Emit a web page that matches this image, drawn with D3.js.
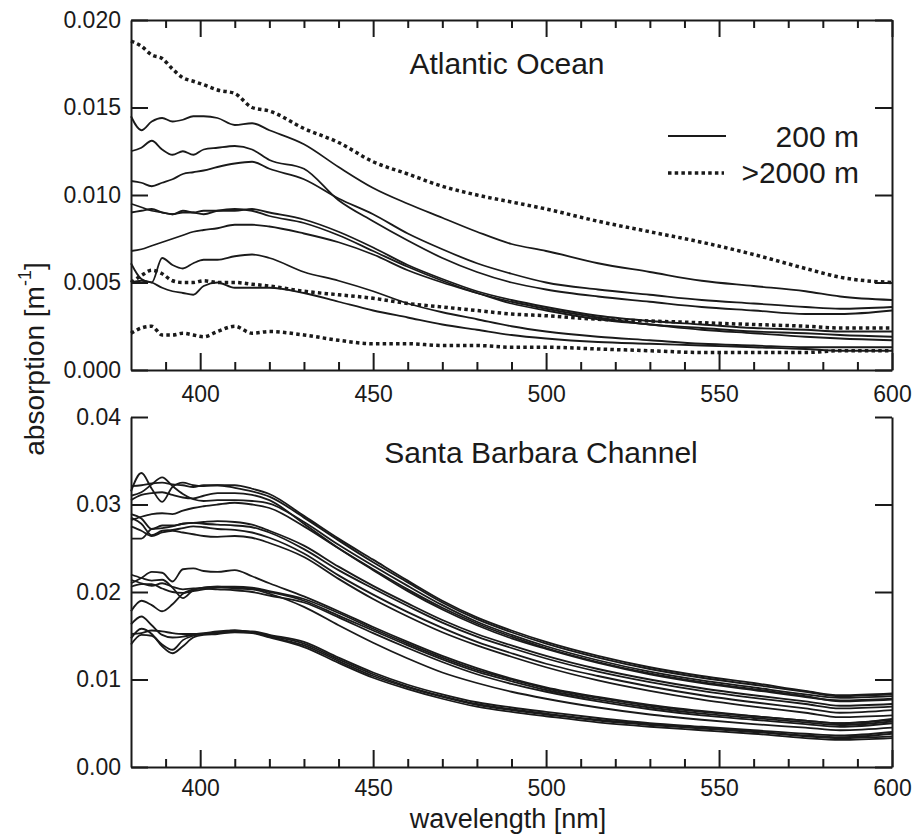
<!DOCTYPE html>
<html>
<head>
<meta charset="utf-8">
<script src="https://cdn.jsdelivr.net/npm/d3@7"></script>
<style>
  body { margin: 0; background: #fff; }
  svg { display: block; font-family: "Liberation Sans", Arial, sans-serif; }
</style>
</head>
<body>
<div id="chart"></div>
<script>
// wavelength grid (nm) shared by every spectrum
var wl = [380, 383, 386, 389, 392, 395, 398, 401, 405, 410, 415, 420, 430, 440, 450,
          460, 470, 480, 490, 500, 515, 530, 545, 560, 575, 585, 600];

// Atlantic Ocean, 200 m (solid)
var atl200_1 = [0.0145,0.0137,0.0142,0.0144,0.0142,0.0143,0.0145,0.0145,0.0144,0.0140,0.0141,0.0137,0.0129,0.0116,0.0104,0.0095,0.0087,0.0079,0.0072,0.0068,0.0061,0.0056,0.0051,0.0048,0.0045,0.0042,0.0040];
var atl200_2 = [0.0125,0.0127,0.0131,0.0126,0.0123,0.0125,0.0123,0.0126,0.0127,0.0128,0.0126,0.0120,0.0115,0.0097,0.0085,0.0074,0.0064,0.0056,0.0050,0.0046,0.0042,0.0039,0.0036,0.0034,0.0032,0.0032,0.0034];
var atl200_3 = [0.0108,0.0107,0.0105,0.0107,0.0109,0.0112,0.0113,0.0114,0.0116,0.0118,0.0119,0.0115,0.0109,0.0098,0.0089,0.0078,0.0069,0.0061,0.0055,0.0050,0.0046,0.0043,0.0040,0.0038,0.0036,0.0035,0.0036];
var atl200_4 = [0.0095,0.0093,0.0091,0.0090,0.0089,0.0090,0.0090,0.0091,0.0091,0.0091,0.0092,0.0090,0.0086,0.0079,0.0070,0.0060,0.0052,0.0045,0.0040,0.0036,0.0031,0.0028,0.0026,0.0024,0.0023,0.0022,0.0022];
var atl200_5 = [0.0090,0.0091,0.0092,0.0090,0.0089,0.0091,0.0090,0.0089,0.0091,0.0092,0.0091,0.0088,0.0084,0.0077,0.0068,0.0059,0.0051,0.0044,0.0039,0.0035,0.0030,0.0026,0.0024,0.0022,0.0021,0.0020,0.0019];
var atl200_6 = [0.0068,0.0069,0.0071,0.0073,0.0075,0.0077,0.0079,0.0080,0.0081,0.0083,0.0083,0.0082,0.0078,0.0073,0.0066,0.0057,0.0050,0.0044,0.0038,0.0034,0.0029,0.0026,0.0023,0.0021,0.0019,0.0018,0.0017];
var atl200_7 = [0.0061,0.0052,0.0050,0.0064,0.0060,0.0058,0.0061,0.0063,0.0063,0.0065,0.0066,0.0064,0.0056,0.0051,0.0045,0.0038,0.0033,0.0029,0.0025,0.0022,0.0019,0.0017,0.0015,0.0014,0.0013,0.0013,0.0013];
var atl200_8 = [0.0050,0.0051,0.0050,0.0047,0.0045,0.0044,0.0043,0.0048,0.0050,0.0047,0.0047,0.0047,0.0044,0.0039,0.0034,0.0030,0.0026,0.0023,0.0020,0.0018,0.0016,0.0015,0.0014,0.0013,0.0012,0.0011,0.0011];

// Atlantic Ocean, >2000 m (dotted)
var atlDeep_1 = [0.0188,0.0185,0.0180,0.0178,0.0172,0.0167,0.0165,0.0163,0.0160,0.0158,0.0150,0.0148,0.0138,0.0130,0.0119,0.0112,0.0105,0.0100,0.0096,0.0092,0.0085,0.0079,0.0073,0.0066,0.0058,0.0053,0.0050];
var atlDeep_2 = [0.0050,0.0054,0.0057,0.0055,0.0051,0.0050,0.0050,0.0051,0.0050,0.0050,0.0049,0.0048,0.0045,0.0043,0.0041,0.0038,0.0036,0.0034,0.0032,0.0031,0.0029,0.0028,0.0027,0.0026,0.0025,0.0024,0.0024];
var atlDeep_3 = [0.0021,0.0024,0.0025,0.0020,0.0020,0.0021,0.0020,0.0019,0.0022,0.0025,0.0021,0.0022,0.0020,0.0017,0.0015,0.0015,0.0014,0.0014,0.0013,0.0013,0.0012,0.0011,0.0010,0.0010,0.0010,0.0011,0.0011];

// Santa Barbara Channel
var sbc_1  = [0.0315,0.0336,0.0318,0.0303,0.0320,0.0325,0.0322,0.0321,0.0322,0.0322,0.0318,0.0312,0.0287,0.0261,0.0237,0.0213,0.0190,0.0171,0.0156,0.0143,0.0127,0.0114,0.0104,0.0096,0.0087,0.0082,0.0084];
var sbc_2  = [0.0310,0.0314,0.0323,0.0331,0.0321,0.0312,0.0306,0.0304,0.0305,0.0305,0.0304,0.0301,0.0280,0.0254,0.0230,0.0207,0.0185,0.0166,0.0151,0.0138,0.0122,0.0109,0.0099,0.0091,0.0083,0.0079,0.0081];
var sbc_3  = [0.0321,0.0322,0.0324,0.0325,0.0323,0.0322,0.0320,0.0322,0.0322,0.0319,0.0315,0.0309,0.0285,0.0259,0.0234,0.0211,0.0188,0.0169,0.0154,0.0141,0.0125,0.0112,0.0102,0.0094,0.0086,0.0081,0.0083];
var sbc_4  = [0.0305,0.0311,0.0313,0.0314,0.0311,0.0308,0.0307,0.0310,0.0313,0.0313,0.0311,0.0305,0.0278,0.0250,0.0225,0.0201,0.0180,0.0162,0.0147,0.0135,0.0119,0.0106,0.0096,0.0088,0.0080,0.0076,0.0078];
var sbc_5  = [0.0282,0.0286,0.0289,0.0290,0.0289,0.0293,0.0296,0.0298,0.0300,0.0302,0.0300,0.0296,0.0275,0.0250,0.0226,0.0203,0.0182,0.0164,0.0149,0.0136,0.0120,0.0107,0.0097,0.0089,0.0081,0.0075,0.0077];
var sbc_6  = [0.0289,0.0284,0.0272,0.0276,0.0276,0.0278,0.0279,0.0280,0.0281,0.0280,0.0277,0.0270,0.0253,0.0229,0.0207,0.0187,0.0168,0.0152,0.0139,0.0127,0.0112,0.0100,0.0090,0.0082,0.0075,0.0070,0.0072];
var sbc_7  = [0.0261,0.0261,0.0272,0.0273,0.0275,0.0278,0.0279,0.0278,0.0277,0.0276,0.0274,0.0268,0.0249,0.0225,0.0204,0.0184,0.0165,0.0149,0.0136,0.0124,0.0109,0.0097,0.0087,0.0079,0.0072,0.0067,0.0069];
var sbc_8  = [0.0285,0.0278,0.0265,0.0270,0.0271,0.0273,0.0275,0.0274,0.0272,0.0271,0.0268,0.0262,0.0244,0.0219,0.0197,0.0177,0.0159,0.0143,0.0130,0.0118,0.0104,0.0092,0.0082,0.0074,0.0067,0.0062,0.0065];
var sbc_9  = [0.0275,0.0270,0.0264,0.0268,0.0270,0.0268,0.0266,0.0264,0.0263,0.0264,0.0262,0.0256,0.0240,0.0215,0.0192,0.0172,0.0154,0.0139,0.0126,0.0114,0.0099,0.0087,0.0077,0.0069,0.0062,0.0057,0.0059];
var sbc_10 = [0.0210,0.0216,0.0223,0.0222,0.0212,0.0226,0.0227,0.0224,0.0223,0.0225,0.0218,0.0210,0.0195,0.0178,0.0160,0.0143,0.0127,0.0113,0.0101,0.0091,0.0080,0.0071,0.0064,0.0058,0.0053,0.0050,0.0054];
var sbc_11 = [0.0220,0.0216,0.0213,0.0214,0.0205,0.0193,0.0202,0.0205,0.0206,0.0206,0.0205,0.0201,0.0192,0.0176,0.0158,0.0141,0.0125,0.0111,0.0100,0.0090,0.0079,0.0070,0.0063,0.0058,0.0053,0.0050,0.0055];
var sbc_12 = [0.0206,0.0209,0.0209,0.0204,0.0200,0.0199,0.0201,0.0203,0.0205,0.0205,0.0204,0.0200,0.0190,0.0173,0.0156,0.0139,0.0123,0.0109,0.0098,0.0088,0.0077,0.0068,0.0061,0.0056,0.0051,0.0048,0.0052];
var sbc_13 = [0.0178,0.0190,0.0185,0.0178,0.0186,0.0198,0.0203,0.0205,0.0206,0.0204,0.0203,0.0198,0.0183,0.0162,0.0142,0.0124,0.0108,0.0096,0.0086,0.0078,0.0068,0.0060,0.0054,0.0049,0.0045,0.0042,0.0045];
var sbc_14 = [0.0214,0.0210,0.0207,0.0210,0.0206,0.0203,0.0204,0.0204,0.0203,0.0202,0.0200,0.0196,0.0188,0.0171,0.0153,0.0136,0.0120,0.0106,0.0095,0.0086,0.0075,0.0066,0.0059,0.0054,0.0049,0.0046,0.0050];
var sbc_15 = [0.0163,0.0172,0.0162,0.0151,0.0148,0.0149,0.0151,0.0152,0.0154,0.0155,0.0155,0.0151,0.0143,0.0125,0.0108,0.0094,0.0083,0.0074,0.0068,0.0063,0.0056,0.0050,0.0046,0.0042,0.0038,0.0036,0.0040];
var sbc_16 = [0.0140,0.0151,0.0150,0.0140,0.0134,0.0145,0.0150,0.0152,0.0153,0.0156,0.0154,0.0150,0.0141,0.0123,0.0106,0.0092,0.0081,0.0072,0.0066,0.0061,0.0054,0.0049,0.0045,0.0041,0.0036,0.0034,0.0038];
var sbc_17 = [0.0152,0.0153,0.0156,0.0155,0.0153,0.0152,0.0152,0.0153,0.0155,0.0156,0.0154,0.0149,0.0139,0.0121,0.0104,0.0091,0.0080,0.0071,0.0065,0.0060,0.0053,0.0048,0.0044,0.0040,0.0035,0.0033,0.0035];
var sbc_18 = [0.0147,0.0158,0.0152,0.0138,0.0130,0.0138,0.0148,0.0151,0.0152,0.0154,0.0153,0.0148,0.0137,0.0119,0.0102,0.0089,0.0078,0.0069,0.0063,0.0058,0.0051,0.0046,0.0042,0.0038,0.0033,0.0031,0.0033];

var atl200 = [atl200_1, atl200_2, atl200_3, atl200_4, atl200_5, atl200_6, atl200_7, atl200_8];
var atlDeep = [atlDeep_1, atlDeep_2, atlDeep_3];
var sbc = [sbc_1, sbc_2, sbc_3, sbc_4, sbc_5, sbc_6, sbc_7, sbc_8, sbc_9,
           sbc_10, sbc_11, sbc_12, sbc_13, sbc_14, sbc_15, sbc_16, sbc_17, sbc_18];

// ticks and labels
var xMajor = [400, 450, 500, 550, 600];
var xMinor = [390, 410, 420, 430, 440, 460, 470, 480, 490, 510, 520, 530, 540, 560, 570, 580, 590];
var yTopTicks = [0, 0.005, 0.010, 0.015, 0.020];
var yBotTicks = [0, 0.01, 0.02, 0.03, 0.04];
var legendLabels = ["200 m", ">2000 m"];

var width = 914, height = 837;
var ink = "#1a1a1a";
var tickFont = "23px";

var svg = d3.select("#chart").append("svg")
  .attr("width", width)
  .attr("height", height);

var x = d3.scaleLinear().domain([380, 600]).range([131, 892]);
var yTop = d3.scaleLinear().domain([0, 0.020]).range([370, 20]);
var yBot = d3.scaleLinear().domain([0, 0.04]).range([767, 417]);

function styleAxis(g) {
  g.selectAll("path, line").attr("stroke", ink).attr("stroke-width", 2);
  g.selectAll("text").style("font-size", tickFont).style("font-family", "Liberation Sans, Arial, sans-serif").attr("fill", ink);
}

function drawPanel(y, yTicks, yFmt, withTop, pad) {
  var g = svg.append("g");
  var y0 = y.range()[0], y1 = y.range()[1];

  // bottom axis: major ticks with labels, minor without
  g.append("g").attr("transform", "translate(0," + y0 + ")")
    .call(d3.axisBottom(x).tickValues(xMajor).tickSize(-17).tickSizeOuter(0).tickPadding(pad).tickFormat(d3.format("d")))
    .call(styleAxis);
  g.append("g").attr("transform", "translate(0," + y0 + ")")
    .call(d3.axisBottom(x).tickValues(xMinor).tickSize(-8).tickFormat(""))
    .call(styleAxis)
    .select(".domain").remove();

  if (withTop) {
    g.append("g").attr("transform", "translate(0," + y1 + ")")
      .call(d3.axisTop(x).tickValues(xMajor).tickSize(-17).tickSizeOuter(0).tickFormat(""))
      .call(styleAxis);
    g.append("g").attr("transform", "translate(0," + y1 + ")")
      .call(d3.axisTop(x).tickValues(xMinor).tickSize(-8).tickFormat(""))
      .call(styleAxis)
      .select(".domain").remove();
  }

  g.append("g").attr("transform", "translate(" + x.range()[0] + ",0)")
    .call(d3.axisLeft(y).tickValues(yTicks).tickSize(-17).tickSizeOuter(0).tickPadding(10).tickFormat(d3.format(yFmt)))
    .call(styleAxis);
  g.append("g").attr("transform", "translate(" + x.range()[1] + ",0)")
    .call(d3.axisRight(y).tickValues(yTicks).tickSize(-17).tickSizeOuter(0).tickFormat(""))
    .call(styleAxis);
  return g;
}

drawPanel(yTop, yTopTicks, ".3f", true, 16);
drawPanel(yBot, yBotTicks, ".2f", false, 13);

var lineTop = d3.line().x(function(d, i) { return x(wl[i]); }).y(function(d) { return yTop(d); }).curve(d3.curveMonotoneX);
var lineBot = d3.line().x(function(d, i) { return x(wl[i]); }).y(function(d) { return yBot(d); }).curve(d3.curveMonotoneX);

svg.append("g").selectAll("path")
  .data(atl200)
  .enter().append("path")
  .attr("d", lineTop)
  .attr("fill", "none")
  .attr("stroke", ink)
  .attr("stroke-width", 1.8);

svg.append("g").selectAll("path")
  .data(atlDeep)
  .enter().append("path")
  .attr("d", lineTop)
  .attr("fill", "none")
  .attr("stroke", ink)
  .attr("stroke-width", 3.5)
  .attr("stroke-dasharray", "3.5,3.2");

svg.append("g").selectAll("path")
  .data(sbc)
  .enter().append("path")
  .attr("d", lineBot)
  .attr("fill", "none")
  .attr("stroke", ink)
  .attr("stroke-width", 1.8);

// panel titles
svg.append("text").attr("x", 507).attr("y", 74).attr("text-anchor", "middle")
  .style("font-size", "30px").attr("fill", ink).text("Atlantic Ocean");
svg.append("text").attr("x", 541).attr("y", 463).attr("text-anchor", "middle")
  .style("font-size", "30px").attr("fill", ink).text("Santa Barbara Channel");

// legend
var legend = svg.append("g");
legend.append("line").attr("x1", 668).attr("x2", 726).attr("y1", 136).attr("y2", 136)
  .attr("stroke", ink).attr("stroke-width", 1.8);
legend.append("line").attr("x1", 668).attr("x2", 724).attr("y1", 173).attr("y2", 173)
  .attr("stroke", ink).attr("stroke-width", 3.5).attr("stroke-dasharray", "3.5,3.2");
legend.selectAll("text.lg")
  .data(legendLabels)
  .enter().append("text")
  .attr("class", "lg")
  .attr("x", 859)
  .attr("y", function(d, i) { return 147 + i * 36; })
  .attr("text-anchor", "end")
  .style("font-size", "30px")
  .attr("fill", ink)
  .text(function(d) { return d; });

// axis titles
svg.append("text").attr("x", 508).attr("y", 828).attr("text-anchor", "middle")
  .style("font-size", "27px").attr("fill", ink).text("wavelength [nm]");

var yl = svg.append("text")
  .attr("transform", "translate(44,359) rotate(-90)")
  .attr("text-anchor", "middle")
  .style("font-size", "28px")
  .attr("fill", ink);
yl.append("tspan").text("absorption [m");
yl.append("tspan").attr("dy", -13).style("font-size", "18px").text("-1");
yl.append("tspan").attr("dy", 13).text("]");
</script>
</body>
</html>
